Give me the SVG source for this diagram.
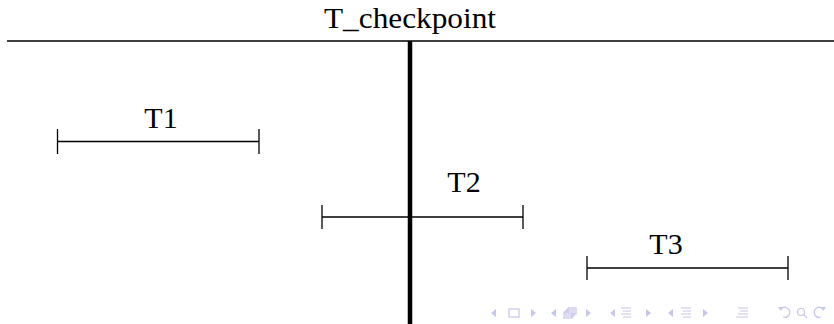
<svg xmlns="http://www.w3.org/2000/svg" width="834" height="324" viewBox="0 0 834 324">
<style>
.lbl{font-family:"Liberation Serif","Times New Roman",serif;font-size:30px;fill:#000;text-anchor:middle}
.ttl{font-size:30px}
.seg{stroke:#000;stroke-width:1.3;fill:none}
.nav{fill:#c6c6e8;stroke:none}
.navs{fill:none;stroke:#c6c6e8;stroke-width:1.2}
</style>
<rect width="834" height="324" fill="#fff"/>
<g id="checkpoint">
<text class="lbl ttl" x="410" y="28" textLength="172" lengthAdjust="spacingAndGlyphs">T_checkpoint</text>
<line x1="7" y1="41" x2="834" y2="41" stroke="#000" stroke-width="1.5"/>
<line x1="410" y1="41" x2="410" y2="324" stroke="#000" stroke-width="4.5"/>
</g>
<g id="T1">
<text class="lbl" x="161" y="128">T1</text>
<line class="seg" x1="57.5" y1="141.5" x2="259" y2="141.5"/>
<line class="seg" x1="57.5" y1="129" x2="57.5" y2="154"/>
<line class="seg" x1="259" y1="129" x2="259" y2="154"/>
</g>
<g id="T2">
<text class="lbl" x="464" y="192">T2</text>
<line class="seg" x1="322" y1="217" x2="523" y2="217"/>
<line class="seg" x1="322" y1="205" x2="322" y2="229"/>
<line class="seg" x1="523" y1="205" x2="523" y2="229"/>
</g>
<g id="T3">
<text class="lbl" x="666" y="254">T3</text>
<line class="seg" x1="587" y1="268" x2="788" y2="268"/>
<line class="seg" x1="587" y1="256" x2="587" y2="280"/>
<line class="seg" x1="788" y1="256" x2="788" y2="280"/>
</g>
<g id="navigation">
<polygon class="nav" points="496,309 496,317 491,313"/>
<rect class="navs" x="509" y="309" width="10" height="8"/>
<polygon class="nav" points="531,309 531,317 536,313"/>
<polygon class="nav" points="556,309 556,317 551,313"/>
<rect class="navs" x="564" y="312" width="8" height="6" fill="#fff"/>
<rect class="navs" x="566" y="310" width="8" height="6" fill="#fff"/>
<rect class="navs" x="568" y="308" width="8" height="6" fill="#fff"/>
<polygon class="nav" points="586,309 586,317 591,313"/>
<polygon class="nav" points="615,309 615,317 610,313"/>
<path class="navs" d="M621,308h10M623,311h8M621,314h10M623,317h8"/>
<polygon class="nav" points="646,309 646,317 651,313"/>
<polygon class="nav" points="673,309 673,317 668,313"/>
<path class="navs" d="M681,308h10M683,311h8M681,314h10M683,317h8"/>
<polygon class="nav" points="703,309 703,317 708,313"/>
<path class="navs" d="M738,308h10M740,311h8M738,314h10M736,317h12"/>
<path class="navs" d="M781,309 a5,5 0 1 1 2,8"/>
<polygon class="nav" points="778,307 783,307 781,311"/>
<circle class="navs" cx="801" cy="312" r="3.5"/>
<line class="navs" x1="803.5" y1="314.5" x2="807" y2="318"/>
<path class="navs" d="M823,309 a5,5 0 1 0 -2,8"/>
<polygon class="nav" points="826,307 821,307 823,311"/>
</g>
</svg>
